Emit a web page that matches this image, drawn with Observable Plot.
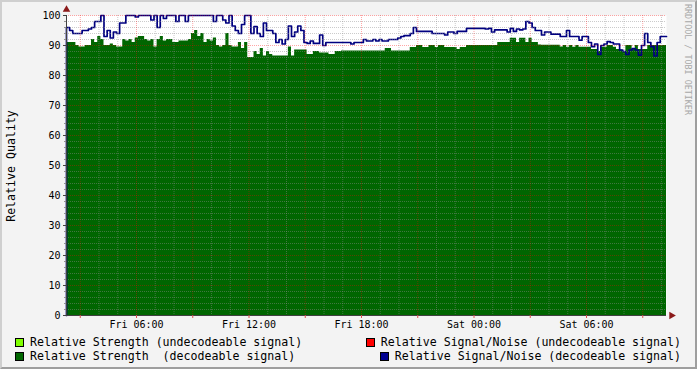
<!DOCTYPE html>
<html><head><meta charset="utf-8">
<script src="https://cdn.jsdelivr.net/npm/d3@7"></script>
<script src="https://cdn.jsdelivr.net/npm/@observablehq/plot@0.6"></script>
<style>
body{margin:0;background:#f3f3f3;}
#wrap{position:relative;width:697px;height:369px;background:#f3f3f3;font-family:"DejaVu Sans Mono",monospace;overflow:hidden;color:#000}
#chart{position:absolute;left:0;top:0}
.frame{position:absolute;left:0;top:0;width:697px;height:369px;box-sizing:border-box;border-top:2px solid #cfcfcf;border-left:2px solid #cfcfcf;border-right:2px solid #9e9e9e;border-bottom:2px solid #9e9e9e;pointer-events:none}
.ylab{position:absolute;left:11px;top:166px;transform:translate(-50%,-50%) rotate(-90deg);font-size:11.6px;white-space:pre}
.credit{position:absolute;left:683px;top:4px;writing-mode:vertical-rl;font-size:8.4px;color:#a8a8a8;white-space:pre}
.col{position:absolute;top:335px;display:flex;flex-direction:column;font-size:11.6px;line-height:14px}
.col.right{right:16px;align-items:flex-end}
.col.left{left:15px;align-items:flex-start}
.item{display:flex;align-items:center;white-space:pre}
.sw{display:inline-block;width:9px;height:9px;box-sizing:border-box;border:1px solid #000;margin-right:6px}
</style></head>
<body>
<div id="wrap">
  <div id="chart"></div>
  <div class="ylab">Relative Quality</div>
  <div class="credit">RRDTOOL / TOBI OETIKER</div>
  <div class="col left" id="legL"></div>
  <div class="col right" id="legR"></div>
  <div class="frame"></div>
</div>
<script>
// ---- data (10-minute samples, step-before; first entry is the start edge) ----
const startTime = new Date(Date.UTC(2011, 0, 7, 2, 16));
const stepMinutes = 10;
const strength = [0,
  91,91,91,90, 89.5,89.5,90,90, 92,91,93,92,
  90,90,90.5,90, 89.5,89.5,92,91.5, 92,91,92.5,93,
  93,92,91.5,92, 89.5,92,93,91.5, 92,92,91,91,
  91.5,91.5,91.5,92, 94,95,93,94, 91,92,91.5,92.5,
  90,89.5,90,94, 90,89.5,89.5,91, 89,91,86,86,
  88,87,89,86.5, 88,87,86.5,86.5, 86.5,86.5,86.5,89.5,
  86.5,88.5,88.5,88.5, 88.5,87,87,88, 88,87.5,87.5,87.5,
  87,87,88,88, 88.2,88.2,88.2,88.2, 88.2,88.2,88.2,88.2,
  88.2,88.2,88.2,88.2, 88.2,88.2,89,89, 88.2,88.2,88.2,88.2,
  88.2,88.2,89.3,89.3, 90,90,89.3,89.3, 90,90,89.3,90,
  90,89.3,89.3,89.3, 89.3,88.7,89.3,89.3, 90,90,90,90,
  90,90,90,90, 90,90,91,91, 91,91,92.4,92.4,
  91,92.4,92.4,91, 92.4,91,91,90.2, 90.1,90.1,90.1,90.1,
  90.1,90.1,89.5,90, 89.4,90,89.4,90, 89.4,89.4,89.4,89.4,
  88.7,88.7,88,89.4, 89.4,90,90,89.4, 88.7,88.5,88,90,
  90,88.7,90,88.7, 88.7,88.7,90,90, 90,90,90,90
];
const signalNoise = [0,
  96,95,94,94, 94,95,95,95.5, 96,98,98,100,
  93,95,92.5,94.5, 94,97.5,97.5,100, 100,100,99.5,100,
  100,100,100,98.5, 100,96,100,99, 100,100,100,98,
  100,100,98,100, 100,100,100,100, 100,100,100,98,
  100,100,98.5,97.5, 100,96.5,95,94, 97,100,100,94,
  96.3,94,93,97.5, 95,95,94,91, 92,90.5,92,96.5,
  93,94.5,96.5,95, 91,90.7,91.5,90.7, 90.7,93.5,90,91,
  91,91,91,91, 91,91,91,90.5, 91,91,91,92,
  91.5,91.5,92,91.5, 92,91.5,91.5,92, 92,92,92.5,93,
  93.3,93.3,94,96, 94.7,94.7,94.7,94.7, 94.7,94,94,94,
  94,93.5,94.5,94.5, 94,94.7,94.7,94.7, 95.7,95.7,95.7,95.7,
  95.7,95.7,95.5,95.7, 94.5,95.2,95.2,95.2, 95.2,94.5,95.7,94.7,
  95.5,95.2,95.5,98, 97.5,96,95,95, 93.5,94.5,94.5,93.8,
  93.8,93.8,93,93, 95,93,93,93, 91.8,93,93,91,
  89.6,90.5,87,90, 90.5,91.3,91,90.5, 90.5,88.5,88,87,
  88.5,89,88.5,86.8, 90,94,91,89.6, 86.5,91,93,93
];
const yTicks = [0,10,20,30,40,50,60,70,80,90,100];
const yMinor = d3.range(0, 101, 2);
const legendLeft = [
  {label: "Relative Strength (undecodeable signal)", color: "#80ff00"},
  {label: "Relative Strength  (decodeable signal)", color: "#006600"}
];
const legendRight = [
  {label: "Relative Signal/Noise (undecodeable signal)", color: "#ff0000"},
  {label: "Relative Signal/Noise (decodeable signal)", color: "#000090"}
];

// ---- build ----
const times = strength.map((_, i) => new Date(+startTime + i * stepMinutes * 60000));
const data = times.map((t, i) => ({t, strength: strength[i], snr: signalNoise[i]}));
const endTime = times[times.length - 1];
const hourTicks = d3.utcHour.every(1).range(startTime, endTime);
const threeHourTicks = d3.utcHour.every(3).range(startTime, endTime);
const sixHourTicks = d3.utcHour.every(6).range(startTime, endTime);
const fmt = d3.utcFormat("%a %H:%M");

const gridGray = {stroke: "#8c8c8c", strokeOpacity: 0.45, strokeDasharray: "1,1"};
const gridRed = {stroke: "#ff0000", strokeOpacity: 0.35, strokeDasharray: "1,1"};

const chart = Plot.plot({
  width: 697, height: 332,
  marginLeft: 66, marginRight: 31, marginTop: 15, marginBottom: 17,
  style: {background: "transparent", fontFamily: "'DejaVu Sans Mono', monospace", fontSize: "10px", color: "#000"},
  x: {type: "utc", domain: [startTime, endTime], axis: null, label: null},
  y: {domain: [0, 100], axis: null, label: null},
  marks: [
    Plot.frame({fill: "white", stroke: null}),
    Plot.areaY(data, {x: "t", y: "strength", curve: "step-before", fill: "#006600"}),
    Plot.lineY(data, {x: "t", y: "snr", curve: "step-before", stroke: "#000080", strokeWidth: 1.7}),
    Plot.ruleX(hourTicks.filter(d => d.getUTCHours() % 3 !== 0), gridGray),
    Plot.ruleY(yMinor.filter(d => d % 10 !== 0), gridGray),
    Plot.ruleX(threeHourTicks, gridRed),
    Plot.ruleY(yTicks.filter(d => d > 0), gridRed),
    Plot.ruleY([0], {stroke: "#404040"}),
    Plot.ruleX([startTime], {stroke: "#404040", y1: 0, y2: 100}),
    Plot.axisY(yMinor, {tickSize: 2, tickFormat: () => "", stroke: "#909090", label: null}),
    Plot.axisY(yTicks, {tickSize: 3, tickPadding: 3, fontSize: 10, stroke: "#404040", label: null}),
    Plot.axisX(threeHourTicks, {tickSize: 3, tickFormat: () => "", stroke: "#e05050", label: null}),
    Plot.axisX(sixHourTicks, {tickSize: 0, tickPadding: 5, tickFormat: fmt, fontSize: 10, label: null}),
    Plot.dot([{t: endTime, v: 0}], {x: "t", y: "v", symbol: "triangle", rotate: 90, r: 2.8, dx: 5, fill: "#8b1a1a", stroke: null}),
    Plot.dot([{t: startTime, v: 100}], {x: "t", y: "v", symbol: "triangle", r: 2.8, dy: -6, fill: "#8b1a1a", stroke: null})
  ]
});
document.getElementById("chart").appendChild(chart);

function legend(el, items) {
  for (const it of items) {
    const row = document.createElement("div");
    row.className = "item";
    const sw = document.createElement("span");
    sw.className = "sw";
    sw.style.background = it.color;
    row.appendChild(sw);
    row.appendChild(document.createTextNode(it.label));
    el.appendChild(row);
  }
}
legend(document.getElementById("legL"), legendLeft);
legend(document.getElementById("legR"), legendRight);
</script>
</body></html>
